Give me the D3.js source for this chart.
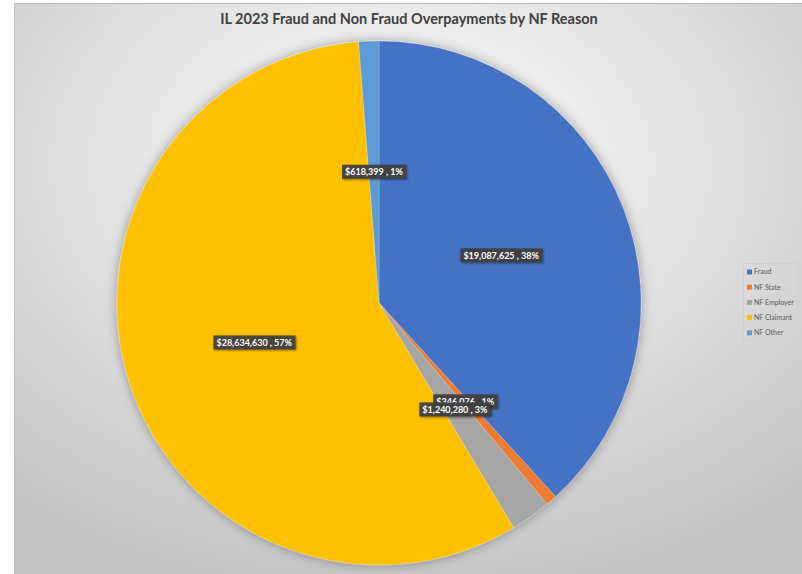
<!DOCTYPE html>
<html>
<head>
<meta charset="utf-8">
<script src="https://cdn.jsdelivr.net/npm/d3@7"></script>
<style>
  body { margin: 0; background: #fff; }
  svg { display: block; }
</style>
</head>
<body>
<script>
// GLOBAL VARIABLES
const WIDTH = 802;
const HEIGHT = 574;

// DATA
const reasons = ["Fraud", "NF State", "NF Employer", "NF Claimant", "NF Other"];
const amounts = [19087625, 346076, 1240280, 28634630, 618399];
const percentLabels = ["38%", "1%", "3%", "57%", "1%"];
const sliceColors = ["#4472C4", "#ED7D31", "#A5A5A5", "#FFC000", "#5B9BD5"];

const pieData = reasons.map((r, i) => ({ reason: r, amount: amounts[i], pct: percentLabels[i] }));

const svg = d3.select("body").append("svg").attr("width", WIDTH).attr("height", HEIGHT);
const defs = svg.append("defs");

// background gradient
const bg = defs.append("radialGradient").attr("id", "bgGrad")
  .attr("cx", "48%").attr("cy", "28%").attr("r", "75%");
bg.append("stop").attr("offset", "0%").attr("stop-color", "#ffffff");
bg.append("stop").attr("offset", "100%").attr("stop-color", "#c4c4c4");

const shadow = defs.append("filter").attr("id", "pieShadow")
  .attr("x", "-20%").attr("y", "-20%").attr("width", "140%").attr("height", "140%");
shadow.append("feDropShadow").attr("dx", 0).attr("dy", 0).attr("stdDeviation", 6)
  .attr("flood-color", "#000").attr("flood-opacity", 0.35);

const labelShadow = defs.append("filter").attr("id", "labelShadow")
  .attr("x", "-20%").attr("y", "-50%").attr("width", "140%").attr("height", "200%");
labelShadow.append("feDropShadow").attr("dx", 1).attr("dy", 1).attr("stdDeviation", 1)
  .attr("flood-color", "#000").attr("flood-opacity", 0.5);

// chart area
svg.append("rect")
  .attr("x", 14.5).attr("y", 3.5).attr("width", WIDTH).attr("height", HEIGHT)
  .attr("fill", "url(#bgGrad)").attr("stroke", "#bdbdbd");

// title
svg.append("text")
  .attr("x", 409).attr("y", 24)
  .attr("text-anchor", "middle")
  .attr("font-family", "Lato, 'Open Sans', sans-serif")
  .attr("font-weight", "bold").attr("font-size", 14.5)
  .attr("fill", "#404040")
  .text("IL 2023 Fraud and Non Fraud Overpayments by NF Reason");

// PIE
const cx = 379, cy = 303, radius = 262;
const pie = d3.pie().value(d => d.amount).sort(null);
const arc = d3.arc().innerRadius(0).outerRadius(radius);
const arcs = pie(pieData);

const pieG = svg.append("g").attr("transform", `translate(${cx},${cy})`);

pieG.append("g").attr("filter", "url(#pieShadow)")
  .selectAll("path")
  .data(arcs)
  .enter()
  .append("path")
  .attr("d", arc)
  .attr("fill", (d, i) => sliceColors[i])
  .attr("stroke", "#ffffff")
  .attr("stroke-opacity", 0.35)
  .attr("stroke-width", 0.6);

// labels
const fmt = d3.format(",");
const labelG = pieG.append("g")
  .selectAll("g")
  .data(arcs)
  .enter()
  .append("g")
  .attr("transform", d => {
    const c = arc.centroid(d);
    return `translate(${c[0]},${c[1]})`;
  });

labelG.each(function(d) {
  const g = d3.select(this);
  const t = g.append("text")
    .attr("text-anchor", "middle")
    .attr("dy", "0.35em")
    .attr("font-family", "Lato, 'Open Sans', sans-serif")
    .attr("font-weight", "bold").attr("font-size", 9)
    .attr("fill", "#ffffff")
    .text(`$${fmt(d.data.amount)} , ${d.data.pct}`);
  const bb = t.node().getBBox();
  g.insert("rect", "text")
    .attr("x", bb.x - 3).attr("y", bb.y - 1.5)
    .attr("width", bb.width + 6).attr("height", bb.height + 3)
    .attr("fill", "#404040").attr("fill-opacity", 0.92)
    .attr("filter", "url(#labelShadow)");
});

// LEGEND
const legendG = svg.append("g").attr("transform", "translate(743,263)");
legendG.append("rect")
  .attr("x", 0.5).attr("y", 0.5).attr("width", 55).attr("height", 77)
  .attr("fill", "none").attr("stroke", "#d0d0d0");

const legendItems = legendG.selectAll("g.item")
  .data(reasons)
  .enter()
  .append("g")
  .attr("class", "item")
  .attr("transform", (d, i) => `translate(4,${9 + i * 15.2})`);

legendItems.append("rect")
  .attr("x", 0).attr("y", -2.5).attr("width", 5).attr("height", 5)
  .attr("fill", (d, i) => sliceColors[i]);

legendItems.append("text")
  .attr("x", 7).attr("dy", "0.35em")
  .attr("font-family", "Lato, 'Open Sans', sans-serif")
  .attr("font-size", 7)
  .attr("fill", "#595959")
  .text(d => d);
</script>
</body>
</html>
